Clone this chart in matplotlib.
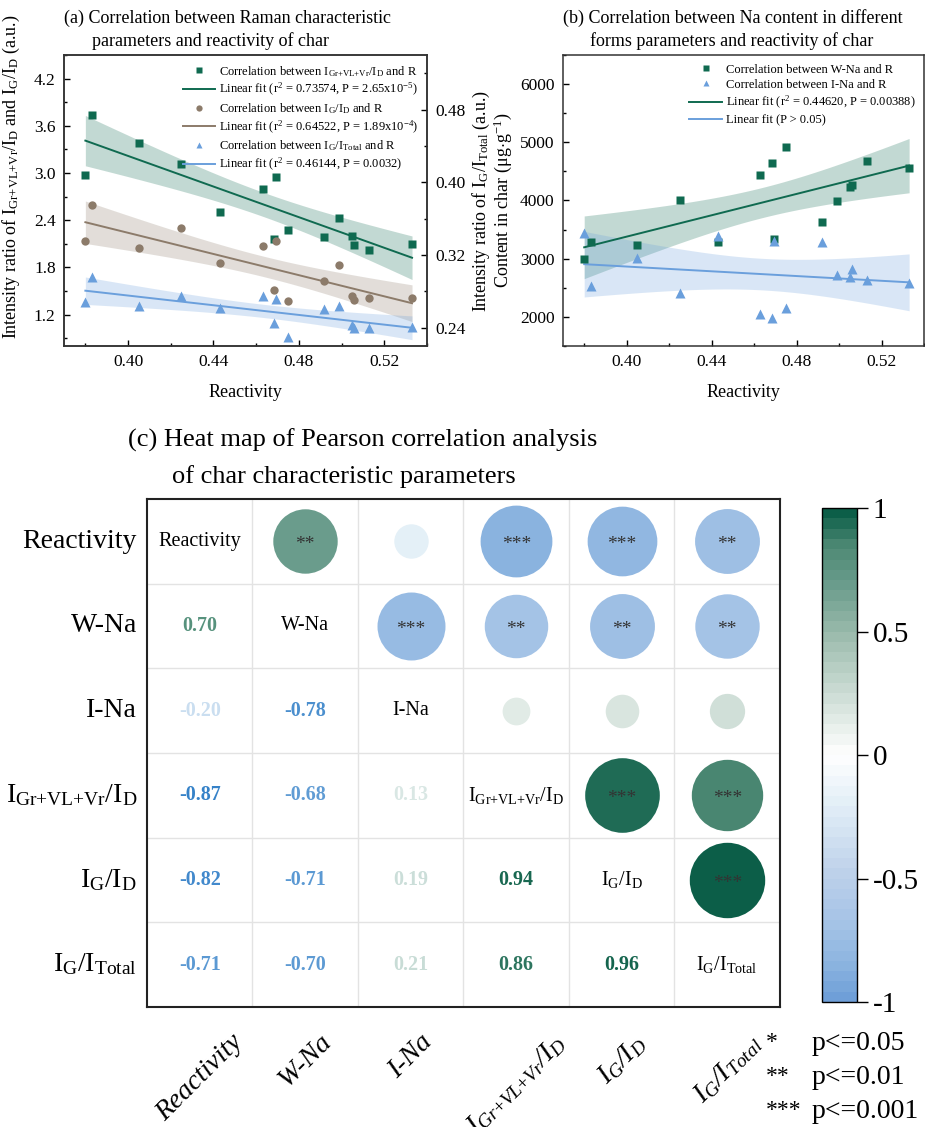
import numpy as np
import matplotlib
matplotlib.use("Agg")
import matplotlib.pyplot as plt
from matplotlib.colors import LinearSegmentedColormap, Normalize
from matplotlib.ticker import MultipleLocator
from matplotlib.lines import Line2D
import matplotlib.cm as cm

plt.rcParams['font.family'] = ['Liberation Serif', 'DejaVu Serif']
plt.rcParams['mathtext.fontset'] = 'custom'
plt.rcParams['mathtext.rm'] = 'Liberation Serif'
plt.rcParams['mathtext.it'] = 'Liberation Serif:italic'
plt.rcParams['mathtext.bf'] = 'Liberation Serif:bold'

# ---- data ----
reactivity = [0.380, 0.383, 0.405, 0.425, 0.443, 0.463, 0.4685, 0.4695, 0.475,
              0.492, 0.499, 0.505, 0.506, 0.513, 0.533]
i_gr_vl_vr_d = [2.97, 3.74, 3.38, 3.12, 2.50, 2.80, 2.155, 2.95, 2.27,
                2.18, 2.43, 2.20, 2.09, 2.02, 2.10]
i_g_d = [2.14, 2.59, 2.05, 2.30, 1.855, 2.07, 1.51, 2.14, 1.37,
         1.62, 1.83, 1.44, 1.39, 1.41, 1.41]
i_g_total = [0.2687, 0.2954, 0.2642, 0.2753, 0.2620, 0.2750, 0.2452, 0.2712, 0.2303,
             0.2606, 0.2642, 0.2430, 0.2400, 0.2400, 0.2411]
w_na = [3000, 3293, 3230, 4000, 3287, 4430, 4641, 3345, 4916,
        3630, 3985, 4225, 4270, 4683, 4556]
i_na = [3441, 2527, 3018, 2418, 3389, 2046, 1983, 3304, 2149,
        3287, 2720, 2693, 2830, 2630, 2583]

var_names = ['Reactivity', 'W-Na', 'I-Na',
             r'I$_{\mathrm{Gr{+}VL{+}Vr}}$/I$_{\mathrm{D}}$',
             r'I$_{\mathrm{G}}$/I$_{\mathrm{D}}$',
             r'I$_{\mathrm{G}}$/I$_{\mathrm{Total}}$']
var_names_it = ['Reactivity', 'W-Na', 'I-Na',
                r'I$_{\mathit{Gr{+}VL{+}Vr}}$/I$_{\mathit{D}}$',
                r'I$_{\mathit{G}}$/I$_{\mathit{D}}$',
                r'I$_{\mathit{G}}$/I$_{\mathit{Total}}$']
corr = np.array([
    [1.00, 0.70, -0.20, -0.87, -0.82, -0.71],
    [0.70, 1.00, -0.78, -0.68, -0.71, -0.70],
    [-0.20, -0.78, 1.00, 0.13, 0.19, 0.21],
    [-0.87, -0.68, 0.13, 1.00, 0.94, 0.86],
    [-0.82, -0.71, 0.19, 0.94, 1.00, 0.96],
    [-0.71, -0.70, 0.21, 0.86, 0.96, 1.00]])
stars = [
    ['', '**', '', '***', '***', '**'],
    ['', '', '***', '**', '**', '**'],
    ['', '', '', '', '', ''],
    ['', '', '', '', '***', '***'],
    ['', '', '', '', '', '***'],
    ['', '', '', '', '', '']]

green = '#0f6a50'
brown = '#8c7b6a'
blue = '#6a9fdc'


def fit_band(x, y, ax, color, alpha):
    x = np.asarray(x); y = np.asarray(y)
    n = len(x)
    b, a = np.polyfit(x, y, 1)
    xs = np.linspace(x.min(), x.max(), 100)
    yh = a + b * xs
    res = y - (a + b * x)
    s = np.sqrt(np.sum(res ** 2) / (n - 2))
    sxx = np.sum((x - x.mean()) ** 2)
    half = 2.160 * s * np.sqrt(1.0 / n + (xs - x.mean()) ** 2 / sxx)
    ax.fill_between(xs, yh - half, yh + half, color=color, alpha=alpha, lw=0)
    ax.plot(xs, yh, color=color, lw=1.4)


def style_ax(ax):
    for sp in ax.spines.values():
        sp.set_linewidth(1.1)
        sp.set_color('#333333')
    ax.tick_params(which='both', direction='in', labelsize=12.5, width=1.0, pad=6)
    ax.tick_params(which='major', length=4)
    ax.tick_params(which='minor', length=2.5)


fig = plt.figure(figsize=(9.25, 11.27), dpi=100)

# ---- panel (a) ----
axa = fig.add_axes([0.0692, 0.6930, 0.3924, 0.2582])
axa2 = axa.twinx()
fit_band(reactivity, i_gr_vl_vr_d, axa, green, 0.25)
fit_band(reactivity, i_g_d, axa, brown, 0.25)
fit_band(reactivity, i_g_total, axa2, blue, 0.25)
axa.plot(reactivity, i_gr_vl_vr_d, 's', color=green, ms=5.5, mec='none')
axa.plot(reactivity, i_g_d, 'o', color=brown, ms=6, mec='none')
axa2.plot(reactivity, i_g_total, '^', color=blue, ms=7, mec='none')
axa.set_xlim(0.37, 0.54)
axa.set_ylim(0.8, 4.5)
axa2.set_ylim(0.22, 0.54)
axa.set_xticks([0.40, 0.44, 0.48, 0.52])
axa.set_xticklabels(['0.40', '0.44', '0.48', '0.52'])
axa.xaxis.set_minor_locator(MultipleLocator(0.02))
axa.set_yticks([1.2, 1.8, 2.4, 3.0, 3.6, 4.2])
axa.yaxis.set_minor_locator(MultipleLocator(0.3))
axa2.set_yticks([0.24, 0.32, 0.40, 0.48])
axa2.yaxis.set_minor_locator(MultipleLocator(0.04))
style_ax(axa); style_ax(axa2)
axa.set_xlabel('Reactivity', fontsize=13, labelpad=10)
axa.set_ylabel(r'Intensity ratio of I$_{\mathrm{Gr{+}VL{+}Vr}}$/I$_{\mathrm{D}}$ and I$_{\mathrm{G}}$/I$_{\mathrm{D}}$ (a.u.)',
               fontsize=13, labelpad=4)
axa.yaxis.set_label_coords(-0.115, 0.58)
axa2.set_ylabel(r'Intensity ratio of I$_{\mathrm{G}}$/I$_{\mathrm{Total}}$ (a.u.)', fontsize=13, labelpad=4)
leg_a = [
    Line2D([], [], ls='none', marker='s', color=green, ms=4.5, mec='none'),
    Line2D([], [], color=green, lw=1.4),
    Line2D([], [], ls='none', marker='o', color=brown, ms=4.5, mec='none'),
    Line2D([], [], color=brown, lw=1.4),
    Line2D([], [], ls='none', marker='^', color=blue, ms=5, mec='none'),
    Line2D([], [], color=blue, lw=1.4)]
lab_a = [r'Correlation between I$_{\mathrm{Gr{+}VL{+}Vr}}$/I$_{\mathrm{D}}$ and R',
         r'Linear fit (r$^2$ = 0.73574, P = 2.65x10$^{-5}$)',
         r'Correlation between I$_{\mathrm{G}}$/I$_{\mathrm{D}}$ and R',
         r'Linear fit (r$^2$ = 0.64522, P = 1.89x10$^{-4}$)',
         r'Correlation between I$_{\mathrm{G}}$/I$_{\mathrm{Total}}$ and R',
         r'Linear fit (r$^2$ = 0.46144, P = 0.0032)']
axa2.legend(leg_a, lab_a, loc='upper right', bbox_to_anchor=(1.0, 1.0), frameon=False,
            fontsize=9, handlelength=2.6, labelspacing=0.22, borderaxespad=0.3, handletextpad=0.3)
fig.text(64 / 925, 1 - 18 / 1127, '(a) Correlation between Raman characteristic', fontsize=13, va='center')
fig.text(92 / 925, 1 - 41 / 1127, 'parameters and reactivity of char', fontsize=13, va='center')

# ---- panel (b) ----
axb = fig.add_axes([0.6086, 0.6930, 0.3903, 0.2582])
fit_band(reactivity, w_na, axb, green, 0.25)
fit_band(reactivity, i_na, axb, blue, 0.25)
axb.plot(reactivity, w_na, 's', color=green, ms=5.5, mec='none')
axb.plot(reactivity, i_na, '^', color=blue, ms=7, mec='none')
axb.set_xlim(0.37, 0.54)
axb.set_ylim(1500, 6500)
axb.set_xticks([0.40, 0.44, 0.48, 0.52])
axb.set_xticklabels(['0.40', '0.44', '0.48', '0.52'])
axb.xaxis.set_minor_locator(MultipleLocator(0.02))
axb.set_yticks([2000, 3000, 4000, 5000, 6000])
axb.yaxis.set_minor_locator(MultipleLocator(500))
style_ax(axb)
axb.set_xlabel('Reactivity', fontsize=13, labelpad=10)
axb.set_ylabel(r'Content in char ($\mathrm{\mu g{\cdot}g^{-1}}$)', fontsize=13, labelpad=4)
leg_b = [
    Line2D([], [], ls='none', marker='s', color=green, ms=4.5, mec='none'),
    Line2D([], [], ls='none', marker='^', color=blue, ms=5, mec='none'),
    Line2D([], [], color=green, lw=1.4),
    Line2D([], [], color=blue, lw=1.4)]
lab_b = ['Correlation between W-Na and R', 'Correlation between I-Na and R',
         r'Linear fit (r$^2$ = 0.44620, P = 0.00388)', 'Linear fit (P > 0.05)']
axb.legend(leg_b, lab_b, loc='upper right', bbox_to_anchor=(1.0, 1.0), frameon=False,
           fontsize=9, handlelength=2.6, labelspacing=0.25, borderaxespad=0.3, handletextpad=0.3)
fig.text(563 / 925, 1 - 18 / 1127, '(b) Correlation between Na content in different', fontsize=13, va='center')
fig.text(590 / 925, 1 - 41 / 1127, 'forms parameters and reactivity of char', fontsize=13, va='center')

# ---- panel (c) heat map ----
circ_cmap = LinearSegmentedColormap.from_list(
    'circ', [(0.0, '#6f9fd8'), (0.065, '#8bb3df'), (0.145, '#a3c2e6'), (0.25, '#bcd0ea'),
             (0.40, '#e3eff7'), (0.5, '#ffffff'), (0.75, '#9bbbac'), (0.85, '#6a9c8c'),
             (0.93, '#4f8a75'), (0.97, '#27705b'), (1.0, '#0c5e48')], N=48)
txt_cmap = LinearSegmentedColormap.from_list(
    'txt', [(0.0, '#1a70c0'), (0.25, '#8ab6e0'), (0.5, '#f4f8fb'), (0.75, '#8ab5a2'), (1.0, '#0b5e47')])
norm = Normalize(-1, 1)

axc = fig.add_axes([0.1589, 0.1065, 0.6843, 0.4508])
n = len(var_names)
axc.set_xlim(0, n)
axc.set_ylim(n, 0)
for k in range(1, n):
    axc.axvline(k, color='#e3e3e3', lw=1.0, zorder=0)
    axc.axhline(k, color='#e3e3e3', lw=1.0, zorder=0)
for sp in axc.spines.values():
    sp.set_linewidth(1.5)
    sp.set_color('#222222')
axc.set_xticks([]); axc.set_yticks([])

for i in range(n):
    for j in range(n):
        r = corr[i, j]
        if i == j:
            axc.text(j + 0.5, i + 0.5, var_names[i], ha='center', va='center', fontsize=14.5)
        elif j > i:
            axc.scatter(j + 0.5, i + 0.5, s=3072 * abs(r), color=circ_cmap(norm(r)), lw=0, zorder=2)
            if stars[i][j]:
                axc.text(j + 0.5, i + 0.54, stars[i][j], ha='center', va='center', fontsize=14,
                         color='#333333', zorder=3)
        else:
            axc.text(j + 0.5, i + 0.5, '%.2f' % r, ha='center', va='center', fontsize=14.5,
                     fontweight='bold', color=txt_cmap(norm(r)))

for i in range(n):
    axc.text(-10 / 633 * n, i + 0.5, var_names[i], ha='right', va='center', fontsize=20)
for j in range(n):
    axc.text(j + 0.5, n + 23 / 508 * n, var_names_it[j], ha='center', va='top', rotation=45,
             fontsize=20, fontstyle='italic')

fig.text(128 / 925, 1 - 440 / 1127, '(c) Heat map of Pearson correlation analysis', fontsize=19, va='center')
fig.text(172 / 925, 1 - 477 / 1127, 'of char characteristic parameters', fontsize=19, va='center')

# colorbar
cax = fig.add_axes([0.8886, 0.1109, 0.0378, 0.4383])
cb = fig.colorbar(cm.ScalarMappable(norm=norm, cmap=circ_cmap), cax=cax)
cb.set_ticks([1, 0.5, 0, -0.5, -1])
cb.set_ticklabels(['1', '0.5', '0', '-0.5', '-1'])
cb.outline.set_linewidth(1.0)
cax.tick_params(labelsize=21, length=8, width=1.0, direction='out')

# significance key
for k, (st, pt) in enumerate([('*', 'p<=0.05'), ('**', 'p<=0.01'), ('***', 'p<=0.001')]):
    yy = 1 - (1043 + 34 * k) / 1127
    fig.text(766 / 925, yy, st, fontsize=17, va='center')
    fig.text(812 / 925, yy, pt, fontsize=20, va='center')

fig.savefig('out.png', dpi=100)
